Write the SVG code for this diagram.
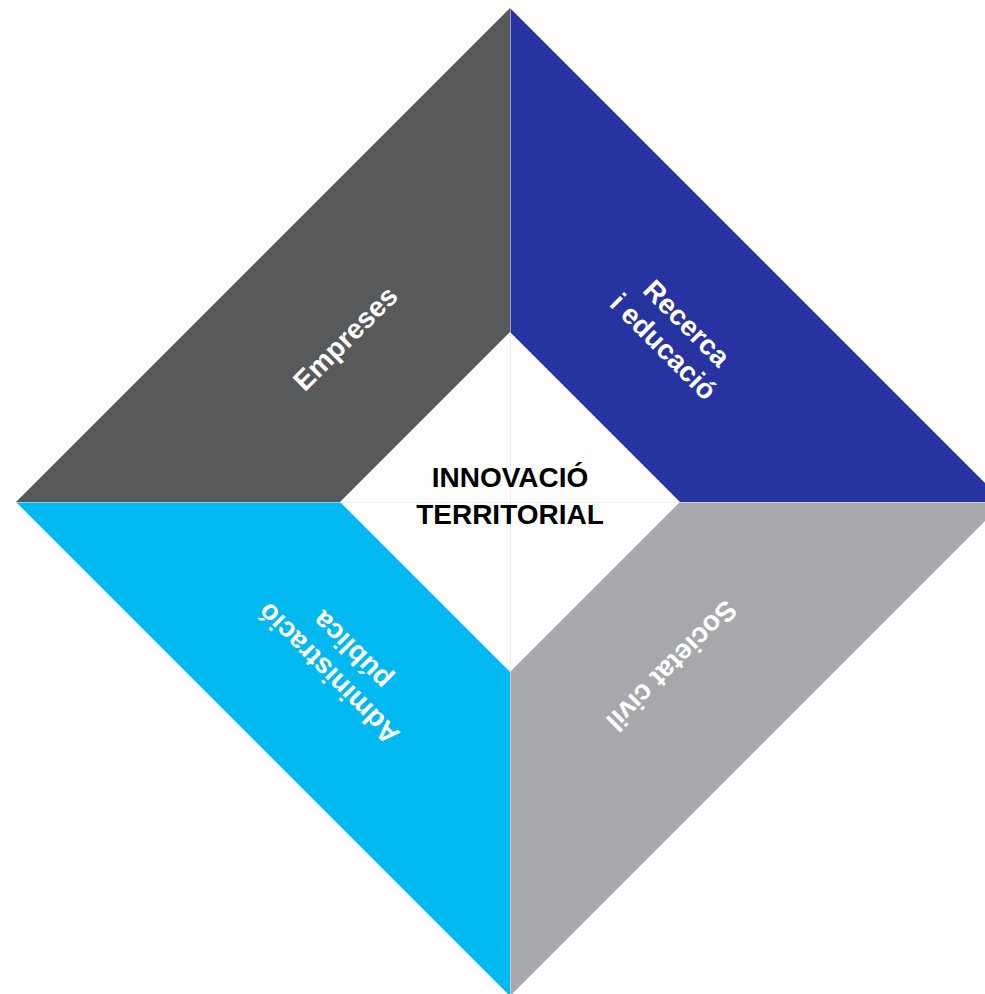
<svg xmlns="http://www.w3.org/2000/svg" width="985" height="994" viewBox="0 0 985 994">
<style>
.lbl{font-family:"Liberation Sans",Arial,Helvetica,sans-serif;font-weight:bold;font-size:28px;fill:#ffffff;text-anchor:middle}
.ctr{font-family:"Liberation Sans",Arial,Helvetica,sans-serif;font-weight:bold;font-size:28px;fill:#000000;text-anchor:middle}
.axis{stroke:#dfe2f0;stroke-width:1;fill:none}
</style>
<rect width="985" height="994" fill="#ffffff"/>
<g id="empreses">
<polygon points="16,502 510,8 510,332 340,502" fill="#58595b"/>
<text class="lbl" transform="translate(345,338) rotate(-45)" y="10">Empreses</text>
</g>
<g id="recerca">
<polygon points="510,8 1004,502 680,502 510,332" fill="#2733a1"/>
<text class="lbl" transform="translate(675,335) rotate(45)"><tspan x="0" y="-7">Recerca</tspan><tspan x="0" y="26">i educació</tspan></text>
</g>
<g id="administracio">
<polygon points="16,502 340,502 510,672 510,996" fill="#00b9f0"/>
<text class="lbl" transform="translate(340,662) rotate(225)"><tspan x="0" y="-7">Administració</tspan><tspan x="0" y="26">pública</tspan></text>
</g>
<g id="societat">
<polygon points="680,502 1004,502 510,996 510,672" fill="#a7a8ab"/>
<text class="lbl" transform="translate(672,666) rotate(135)" y="10">Societat civil</text>
</g>
<g id="connectors">
<line class="axis" x1="510.5" y1="8" x2="510.5" y2="994" stroke-opacity="0.6"/>
<line class="axis" x1="16" y1="502.5" x2="985" y2="502.5" stroke-opacity="0.6"/>
</g>
<g id="centre">
<text class="ctr" x="510" y="487">INNOVACIÓ</text>
<text class="ctr" x="510" y="524">TERRITORIAL</text>
</g>
</svg>
